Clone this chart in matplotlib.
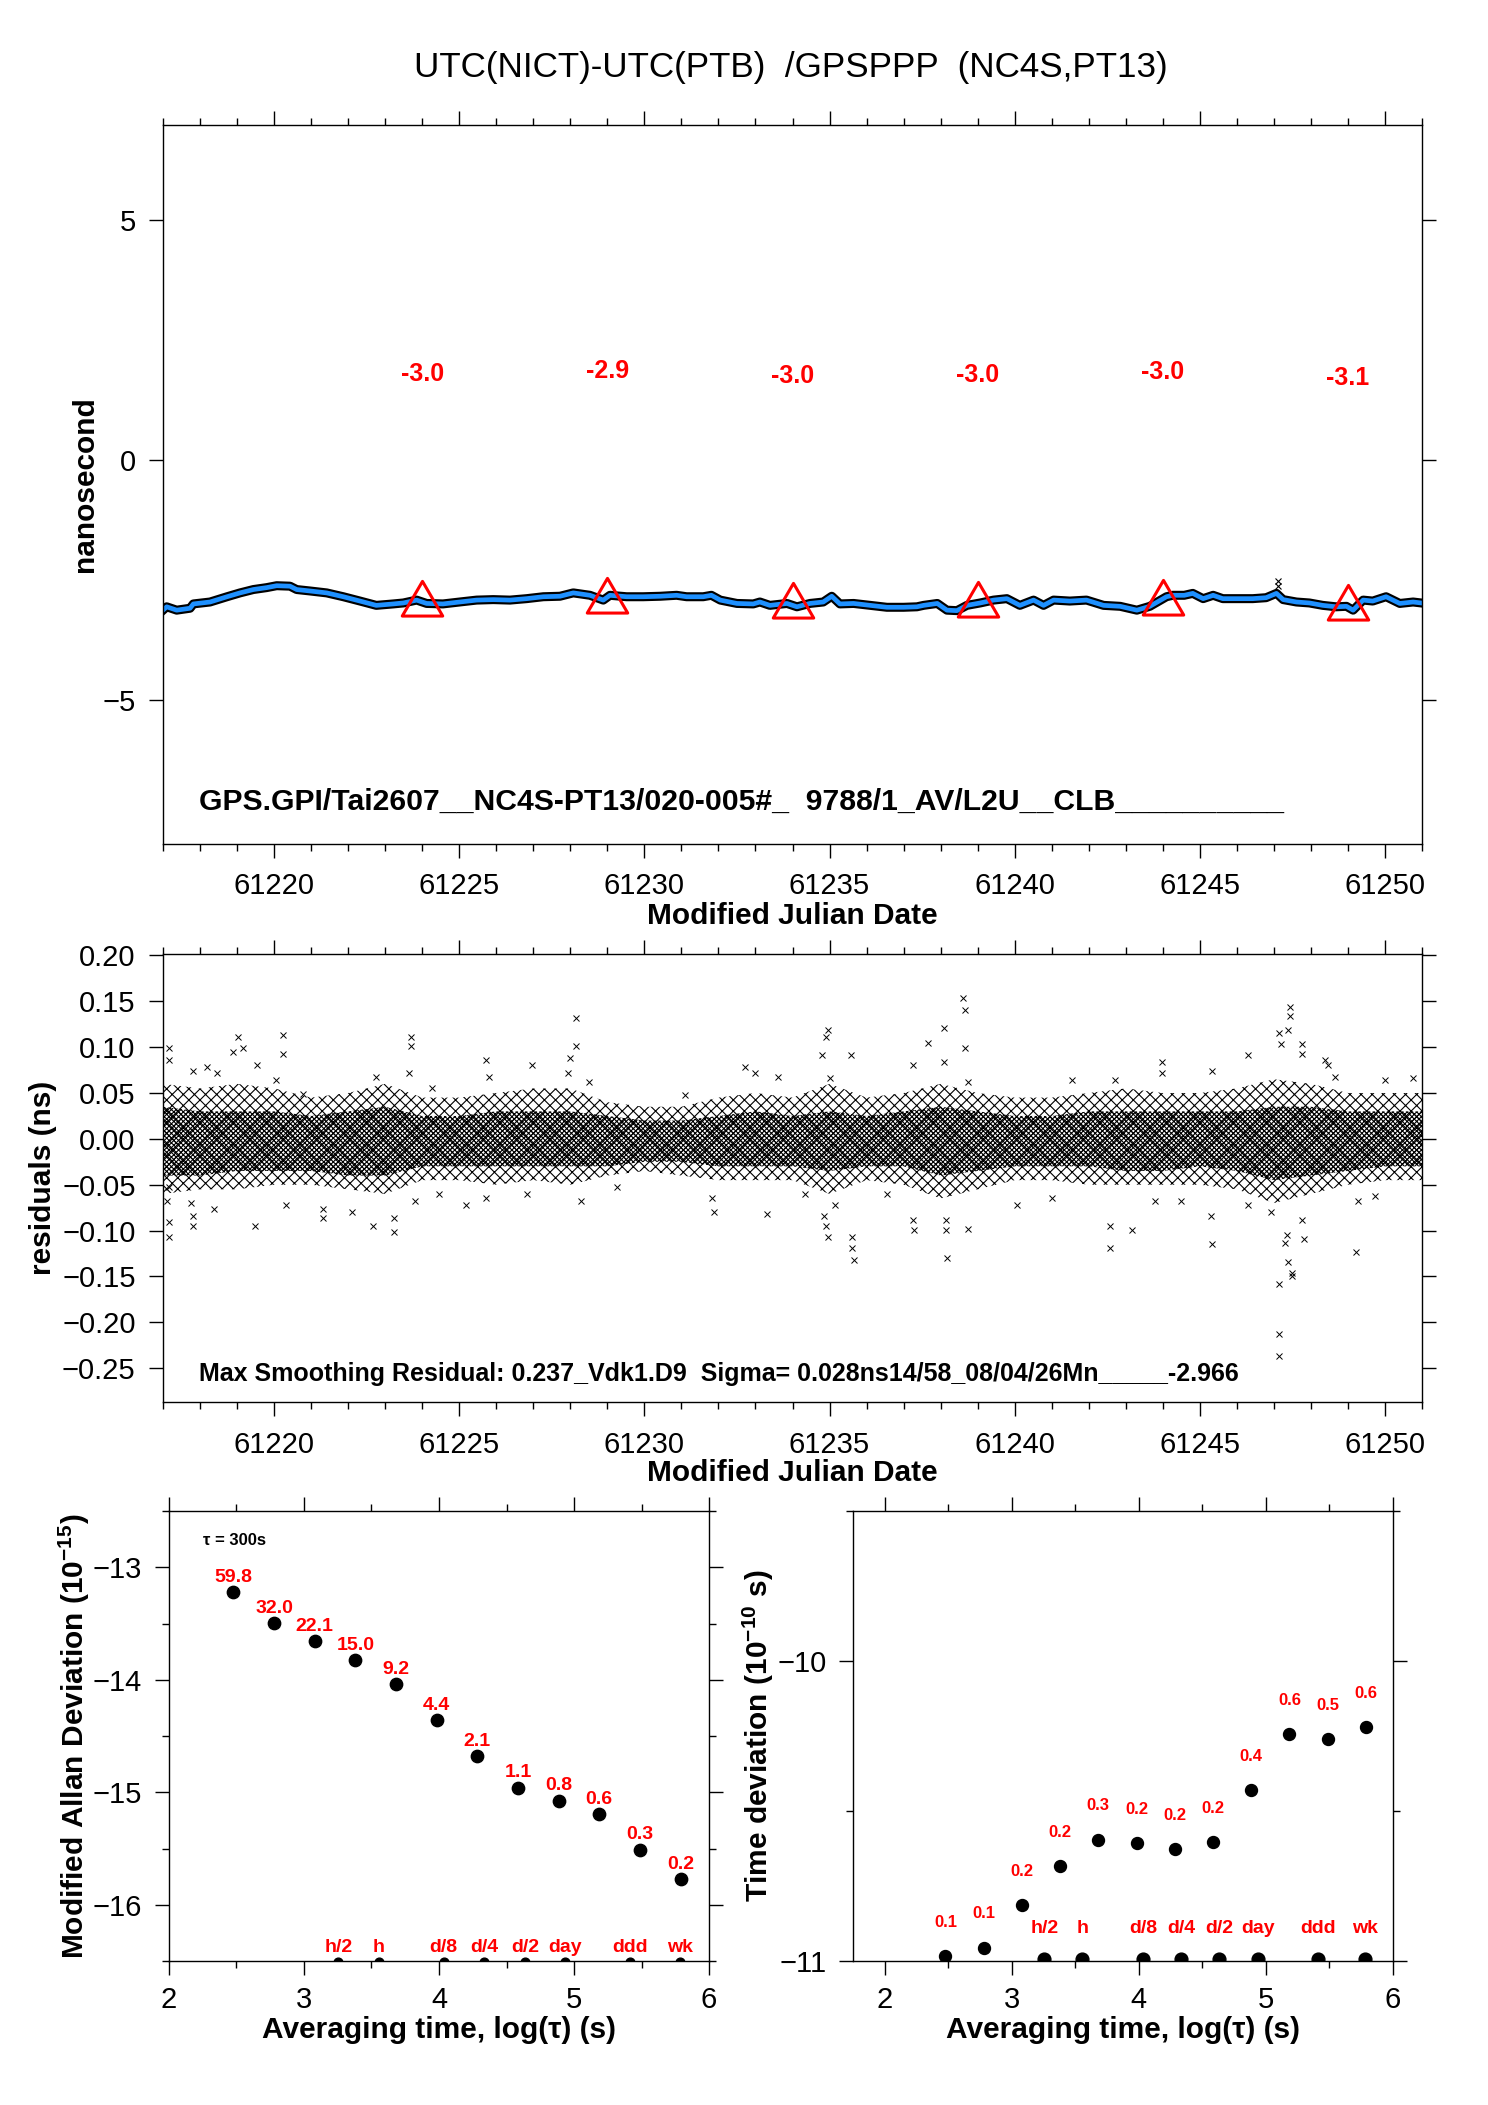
import numpy as np
import matplotlib
matplotlib.use('Agg')
import matplotlib.pyplot as plt
from matplotlib.path import Path
from matplotlib.ticker import MultipleLocator, FuncFormatter

# ---- data ----
title = 'UTC(NICT)-UTC(PTB)  /GPSPPP  (NC4S,PT13)'
gps_text = 'GPS.GPI/Tai2607__NC4S-PT13/020-005#_  9788/1_AV/L2U__CLB__________'
res_text = 'Max Smoothing Residual: 0.237_Vdk1.D9  Sigma= 0.028ns14/58_08/04/26Mn_____-2.966'

# smoothed UTC(NICT)-UTC(PTB) curve (ns)
curve_mjd = [61217.00, 61217.10, 61217.37, 61217.73, 61217.82, 61218.27, 61218.73, 61219.08,
             61219.44, 61219.80, 61220.07, 61220.43, 61220.61, 61220.97, 61221.42, 61221.87,
             61222.32, 61222.76, 61223.22, 61223.49, 61223.85, 61224.12, 61224.56, 61225.01,
             61225.47, 61225.92, 61226.37, 61226.82, 61227.27, 61227.72, 61228.08, 61228.53,
             61228.89, 61229.07, 61229.52, 61229.97, 61230.43, 61230.87, 61231.14, 61231.59,
             61231.81, 61232.05, 61232.50, 61232.94, 61233.12, 61233.39, 61233.85, 61234.12,
             61234.47, 61234.83, 61235.06, 61235.28, 61235.65, 61236.10, 61236.55, 61237.00,
             61237.36, 61237.54, 61237.91, 61238.17, 61238.44, 61238.71, 61239.07, 61239.43,
             61239.79, 61240.14, 61240.51, 61240.78, 61241.05, 61241.49, 61241.94, 61242.40,
             61242.85, 61243.30, 61243.65, 61244.10, 61244.27, 61244.58, 61244.81, 61245.09,
             61245.36, 61245.62, 61245.98, 61246.43, 61246.79, 61247.07, 61247.25, 61247.61,
             61247.96, 61248.32, 61248.68, 61248.96, 61249.14, 61249.41, 61249.67, 61250.03,
             61250.40, 61250.76, 61250.98]
curve_val = [-3.125, -3.055, -3.125, -3.085, -2.995, -2.955, -2.845, -2.765,
             -2.695, -2.655, -2.615, -2.625, -2.695, -2.725, -2.765, -2.845,
             -2.935, -3.025, -2.995, -2.975, -2.915, -2.985, -2.995, -2.955,
             -2.915, -2.905, -2.915, -2.885, -2.845, -2.835, -2.765, -2.815,
             -2.915, -2.815, -2.845, -2.845, -2.835, -2.815, -2.845, -2.845,
             -2.815, -2.915, -2.985, -2.995, -2.955, -3.025, -2.985, -3.055,
             -2.985, -2.955, -2.835, -2.995, -2.985, -3.025, -3.065, -3.065,
             -3.055, -3.025, -2.985, -3.125, -3.135, -3.025, -2.975, -2.915,
             -2.885, -3.025, -2.915, -3.025, -2.915, -2.935, -2.915, -3.025,
             -3.045, -3.125, -3.045, -2.845, -2.815, -2.815, -2.775, -2.885,
             -2.815, -2.885, -2.885, -2.885, -2.865, -2.775, -2.905, -2.955,
             -2.975, -3.025, -3.055, -3.045, -3.125, -2.915, -2.935, -2.845,
             -2.985, -2.955, -2.975]
spike_mjd = [61247.12, 61247.12]
spike_val = [-2.52, -2.63]

# triangles (daily means)
tri_mjd = [61224, 61229, 61234, 61239, 61244, 61249]
tri_val = [-3.00, -2.93, -3.04, -3.02, -2.97, -3.09]

# residuals: envelope of the dense cloud, per day
env_mjd = list(range(61217, 61252))
outer_hi = [0.060, 0.055, 0.060, 0.055, 0.045, 0.050, 0.060, 0.045, 0.045, 0.050, 0.055, 0.055,
            0.040, 0.035, 0.035, 0.045, 0.050, 0.045, 0.060, 0.045, 0.050, 0.060, 0.050, 0.045,
            0.045, 0.050, 0.055, 0.050, 0.050, 0.055, 0.065, 0.060, 0.050, 0.050, 0.050]
outer_lo = [-0.060, -0.055, -0.055, -0.050, -0.050, -0.055, -0.060, -0.045, -0.045, -0.050, -0.045, -0.050,
            -0.040, -0.035, -0.040, -0.045, -0.045, -0.045, -0.060, -0.045, -0.050, -0.065, -0.055, -0.045,
            -0.045, -0.050, -0.050, -0.050, -0.050, -0.055, -0.070, -0.060, -0.050, -0.045, -0.045]
core_hi = [0.035, 0.030, 0.030, 0.030, 0.025, 0.030, 0.035, 0.025, 0.025, 0.030, 0.030, 0.030,
           0.025, 0.020, 0.020, 0.025, 0.030, 0.025, 0.030, 0.025, 0.030, 0.035, 0.030, 0.025,
           0.025, 0.030, 0.030, 0.030, 0.030, 0.030, 0.035, 0.035, 0.030, 0.030, 0.030]
core_lo = [-0.040, -0.040, -0.035, -0.035, -0.035, -0.040, -0.040, -0.030, -0.030, -0.030, -0.030, -0.030,
           -0.030, -0.025, -0.025, -0.030, -0.030, -0.030, -0.035, -0.030, -0.030, -0.040, -0.035, -0.030,
           -0.030, -0.030, -0.035, -0.035, -0.030, -0.035, -0.045, -0.040, -0.035, -0.030, -0.030]

# residuals: isolated points outside the cloud
out_mjd = [61217.16, 61217.16, 61217.80, 61218.20, 61218.46, 61218.90, 61219.03, 61219.15, 61219.54,
           61220.23, 61220.23, 61220.05, 61220.77, 61222.74, 61223.71, 61223.71, 61223.63, 61224.27,
           61225.73, 61225.81, 61226.96, 61228.16, 61228.16, 61227.99, 61227.93, 61228.50, 61231.10,
           61232.72, 61232.98, 61233.60, 61234.97, 61234.90, 61234.79, 61235.00, 61235.59, 61237.25,
           61237.66, 61238.10, 61238.10, 61238.61, 61238.66, 61238.66, 61238.74, 61241.55, 61242.70,
           61243.98, 61243.98, 61245.34, 61246.29, 61247.13, 61247.18, 61247.44, 61247.44, 61247.39,
           61247.77, 61247.77, 61248.39, 61248.46, 61248.66, 61249.99, 61250.77,
           61217.16, 61217.11, 61217.16, 61217.16, 61217.75, 61217.80, 61217.82, 61218.39, 61219.49,
           61220.31, 61221.33, 61221.33, 61222.10, 61222.66, 61223.25, 61223.25, 61223.81, 61224.45,
           61225.17, 61225.73, 61226.83, 61228.29, 61229.27, 61231.82, 61231.88, 61233.31, 61234.33,
           61234.85, 61234.90, 61234.95, 61235.16, 61235.61, 61235.61, 61235.66, 61236.56, 61237.25,
           61237.28, 61238.15, 61238.15, 61238.17, 61238.74, 61240.07, 61241.00, 61242.57, 61242.57,
           61243.16, 61243.80, 61244.49, 61245.31, 61245.34, 61246.29, 61246.93, 61247.13, 61247.13,
           61247.13, 61247.31, 61247.39, 61247.49, 61247.49, 61247.36, 61247.82, 61247.77, 61249.23,
           61249.28, 61249.74]
out_val = [0.099, 0.086, 0.074, 0.078, 0.072, 0.095, 0.111, 0.099, 0.080,
           0.113, 0.093, 0.064, 0.049, 0.068, 0.111, 0.101, 0.072, 0.056,
           0.086, 0.068, 0.080, 0.132, 0.101, 0.088, 0.072, 0.062, 0.048,
           0.078, 0.072, 0.068, 0.119, 0.111, 0.091, 0.066, 0.091, 0.080,
           0.105, 0.121, 0.084, 0.154, 0.140, 0.099, 0.062, 0.064, 0.064,
           0.084, 0.072, 0.074, 0.091, 0.115, 0.103, 0.144, 0.134, 0.119,
           0.103, 0.093, 0.086, 0.080, 0.068, 0.064, 0.066,
           -0.053, -0.068, -0.091, -0.107, -0.070, -0.084, -0.095, -0.076, -0.095,
           -0.072, -0.076, -0.086, -0.080, -0.095, -0.086, -0.101, -0.068, -0.060,
           -0.072, -0.064, -0.060, -0.068, -0.053, -0.064, -0.080, -0.082, -0.060,
           -0.084, -0.095, -0.107, -0.072, -0.107, -0.119, -0.132, -0.060, -0.088,
           -0.099, -0.088, -0.099, -0.130, -0.098, -0.072, -0.064, -0.095, -0.119,
           -0.099, -0.068, -0.068, -0.084, -0.115, -0.072, -0.080, -0.158, -0.213,
           -0.237, -0.113, -0.134, -0.146, -0.150, -0.105, -0.109, -0.088, -0.123,
           -0.068, -0.062]

# stability
tau_s = [300, 600, 1200, 2400, 4800, 9600, 19200, 38400, 76800, 153600, 307200, 614400]
mdev = [59.8, 32.0, 22.1, 15.0, 9.2, 4.4, 2.1, 1.1, 0.84, 0.64, 0.31, 0.17]        # 1e-15
tdev = [0.104, 0.111, 0.154, 0.208, 0.254, 0.247, 0.237, 0.249, 0.372, 0.570, 0.549, 0.602]  # 1e-10 s
ev_lab = ['h/2', 'h', 'd/8', 'd/4', 'd/2', 'day', 'ddd', 'wk']
ev_tau = [1800, 3600, 10800, 21600, 43200, 86400, 259200, 604800]
ev_mdev_y = -16.507
ev_tdev_y = -10.992

# ---- style ----
plt.rcParams['font.family'] = ['Liberation Sans', 'DejaVu Sans']
plt.rcParams['mathtext.fontset'] = 'custom'
plt.rcParams['mathtext.rm'] = 'Liberation Sans'
plt.rcParams['mathtext.bf'] = 'Liberation Sans:bold'
plt.rcParams['hatch.linewidth'] = 0.8

W, H = 1488, 2105
RED = '#ff0000'
BLUE = '#1e90ff'
TICK_FS = 21
LAB_FS = 21.5

fig = plt.figure(figsize=(W / 100, H / 100), dpi=100)


def px_axes(l, t, r, b):
    return fig.add_axes([l / W, 1 - b / H, (r - l) / W, (b - t) / H])


def style(ax, ypad, xpad):
    ax.tick_params(which='both', direction='out', top=True, right=True,
                   labelsize=TICK_FS, width=1)
    ax.tick_params(axis='y', which='both', pad=ypad)
    ax.tick_params(axis='x', which='both', pad=xpad)
    ax.tick_params(which='major', length=10)
    ax.tick_params(which='minor', length=5)
    for s in ax.spines.values():
        s.set_linewidth(1)


def mjd_axis(ax):
    ax.set_xlim(61217, 61251)
    ax.xaxis.set_major_locator(MultipleLocator(5))
    ax.xaxis.set_minor_locator(MultipleLocator(1))
    ax.xaxis.set_major_formatter(FuncFormatter(lambda v, p: '%d' % round(v)))
    ax.set_xlabel('Modified Julian Date', fontsize=LAB_FS, fontweight='bold', va='center')


def signed(fmt):
    def f(v, p):
        if abs(v) < 1e-9:
            v = 0.0
        return (fmt % v).replace('-', '\u2212')
    return FuncFormatter(f)


fig.text(790.8 / W, 1 - 68 / H, title, fontsize=25.2, ha='center', va='center')

# ---- top: time difference ----
ax1 = px_axes(163, 124.5, 1422, 844)
style(ax1, 9.7, 10.5)
ax1.plot(curve_mjd, curve_val, color='black', lw=6.5)
ax1.plot(spike_mjd, spike_val, 'x', color='black', ms=4, mew=0.8)
ax1.plot(curve_mjd, curve_val, color=BLUE, lw=3.4)
# triangle centred on its centroid
tri = Path([(0, 0.8), (-0.7, -0.4), (0.7, -0.4), (0, 0.8)], closed=True)
ax1.plot(tri_mjd, tri_val, ls='none', marker=tri, ms=33.3, mfc='none', mec=RED, mew=2.2)
for m, v in zip(tri_mjd, tri_val):
    ax1.text(m, v + 4.8, '%.1f' % v, color=RED, fontsize=18, fontweight='bold',
             ha='center', va='center')
ax1.set_ylim(-8, 7)
ax1.set_yticks([-5, 0, 5])
ax1.yaxis.set_major_formatter(signed('%d'))
mjd_axis(ax1)
ax1.xaxis.set_label_coords(0.5, -0.0997)
ax1.set_ylabel('nanosecond', fontsize=LAB_FS, fontweight='bold', va='center')
ax1.yaxis.set_label_coords(-0.0623, 0.5)
ax1.text(0.0289, 0.0475, gps_text, transform=ax1.transAxes, fontsize=21.7,
         fontweight='bold', va='baseline')

# ---- middle: residuals ----
ax2 = px_axes(163, 953.6, 1422, 1402.1)
style(ax2, 9.7, 10.5)
ax2.fill_between(env_mjd, outer_lo, outer_hi, facecolor='none', edgecolor='black',
                 hatch='xxx', lw=0)
ax2.fill_between(env_mjd, core_lo, core_hi, facecolor='none', edgecolor='black',
                 hatch='xxxxxxx', lw=0)
ax2.plot(out_mjd, out_val, 'x', color='black', ms=4.5, mew=0.7)
ax2.set_ylim(-0.287, 0.202)
ax2.yaxis.set_major_locator(MultipleLocator(0.05))
ax2.yaxis.set_major_formatter(signed('%.2f'))
mjd_axis(ax2)
ax2.xaxis.set_label_coords(0.5, -0.158)
ax2.set_ylabel('residuals (ns)', fontsize=LAB_FS, fontweight='bold', va='center')
ax2.yaxis.set_label_coords(-0.0953, 0.5)
ax2.text(0.0289, 0.0477, res_text, transform=ax2.transAxes, fontsize=18,
         fontweight='bold', va='baseline')

# ---- bottom: stability ----
lx = np.log10(tau_s)
evx = np.log10(ev_tau)


def stab_axis(ax):
    style(ax, 9.2, 8)
    ax.xaxis.set_major_locator(MultipleLocator(1))
    ax.xaxis.set_minor_locator(MultipleLocator(0.5))
    ax.yaxis.set_major_locator(MultipleLocator(1))
    ax.yaxis.set_minor_locator(MultipleLocator(0.5))
    ax.xaxis.set_major_formatter(signed('%d'))
    ax.yaxis.set_major_formatter(signed('%d'))
    ax.set_xlabel('Averaging time, log(\u03c4) (s)', fontsize=LAB_FS, fontweight='bold',
                  va='center')
    ax.xaxis.set_label_coords(0.5, -0.153)


ax3 = px_axes(168.9, 1511.1, 709.1, 1961.1)
stab_axis(ax3)
ax3.set_xlim(2, 6)
ax3.set_ylim(-16.5, -12.5)
ly = np.log10(np.array(mdev) * 1e-15)
ax3.plot(lx, ly, 'o', color='black', ms=8.9)
for xi, yi, v in zip(lx, ly, mdev):
    ax3.annotate('%.1f' % v, (xi, yi), xytext=(0, 7.5), textcoords='offset points',
                 ha='center', va='baseline', color=RED, fontsize=14, fontweight='bold')
ax3.plot(evx, [ev_mdev_y] * len(evx), 'o', color='black', ms=6.3)
for xi, lab in zip(evx, ev_lab):
    ax3.annotate(lab, (xi, ev_mdev_y), xytext=(0, 7.2), textcoords='offset points',
                 ha='center', va='baseline', color=RED, fontsize=14, fontweight='bold',
                 annotation_clip=False)
ax3.text(0.0637, 0.934, '\u03c4 = 300s', transform=ax3.transAxes, fontsize=12,
         fontweight='bold', va='center')
ax3.set_ylabel('Modified Allan Deviation (10$^{\\mathbf{-15}}$)', fontsize=LAB_FS,
               fontweight='bold', va='center')
ax3.yaxis.set_label_coords(-0.1753, 0.5)

ax4 = px_axes(853.1, 1511.1, 1392.7, 1961.1)
stab_axis(ax4)
ax4.set_xlim(1.75, 6)
ax4.set_ylim(-11, -9.5)
ty = np.log10(np.array(tdev) * 1e-10)
ax4.plot(lx, ty, 'o', color='black', ms=8.6)
for xi, yi, v in zip(lx, ty, tdev):
    ax4.annotate('%.1f' % v, (xi, yi), xytext=(0, 21), textcoords='offset points',
                 ha='center', va='baseline', color=RED, fontsize=12, fontweight='bold')
ax4.plot(evx, [ev_tdev_y] * len(evx), 'o', color='black', ms=9.2)
for xi, lab in zip(evx, ev_lab):
    ax4.annotate(lab, (xi, ev_tdev_y), xytext=(0, 18.5), textcoords='offset points',
                 ha='center', va='baseline', color=RED, fontsize=14, fontweight='bold',
                 annotation_clip=False)
ax4.set_ylabel('Time deviation (10$^{\\mathbf{-10}}$ s)', fontsize=LAB_FS,
               fontweight='bold', va='center')
ax4.yaxis.set_label_coords(-0.1764, 0.5)

fig.savefig('out.png', dpi=100)
